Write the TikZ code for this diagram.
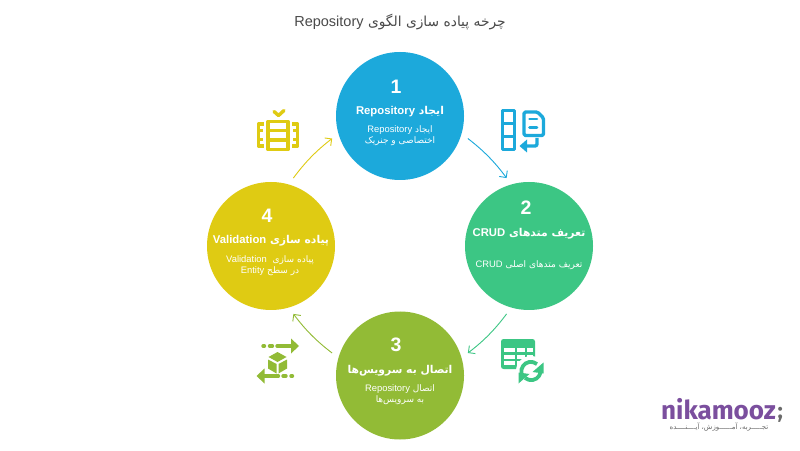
\documentclass[tikz,border=0pt]{standalone}
\usepackage{fontspec}
\usetikzlibrary{arrows.meta}
\TeXXeTstate=1
\newfontfamily\fa[Script=Arabic]{DejaVu Sans}
\newfontfamily\lat{Liberation Sans}
\newfontfamily\logofont{Fira Sans}
\newcommand\RLtxt[1]{\beginR #1\endR}
\newcommand\LTtxt[1]{\beginL{\lat #1}\endL{}}
\newcommand\HL[1]{{\fontsize{11.3}{12}\selectfont\LTtxt{#1}}}
\newcommand\BL[1]{{\fontsize{9.4}{10}\selectfont\LTtxt{#1}}}
\definecolor{cblue}{HTML}{1CA9DB}
\definecolor{cgreen}{HTML}{3CC684}
\definecolor{colive}{HTML}{92BB36}
\definecolor{cyellow}{HTML}{DFCB13}
\definecolor{ctitle}{HTML}{4A4A4A}
\definecolor{cpurple}{HTML}{7B4F9E}
\definecolor{cgreylogo}{HTML}{6A6A6A}
\tikzset{
  stepcircle/.style={circle,fill=#1,minimum size=128pt,inner sep=0pt,outer sep=0pt},
  numtxt/.style={text=white,font=\lat\bfseries\fontsize{19.5}{21}\selectfont,inner sep=0pt},
  headtxt/.style={text=white,font=\fa\bfseries\fontsize{10.8}{12}\selectfont,inner sep=0pt},
  bodytxt/.style={text=white,font=\fa\fontsize{9}{11}\selectfont,align=center,inner sep=0pt},
  cyclearrow/.style={draw=#1,line width=0.9pt,shorten >=8pt,shorten <=8pt,-{Straight Barb[length=5pt,width=10pt,line width=0.9pt]}},
}
\begin{document}
\begin{tikzpicture}[x=1pt,y=1pt]
\useasboundingbox (0,0) rectangle (800,450);
\fill[white] (0,0) rectangle (800,450);
% title
\node[inner sep=0pt,text=ctitle,font=\fa\fontsize{13.8}{14}\selectfont] (title) at (400,428)
  {\RLtxt{چرخه پیاده سازی الگوی {\fontsize{14.5}{14}\selectfont\LTtxt{Repository}}}};
% circles
\node[stepcircle=cblue] (c1) at (400,334) {};
\node[stepcircle=cgreen] (c2) at (529,204) {};
\node[stepcircle=colive] (c3) at (400,74.5) {};
\node[stepcircle=cyellow] (c4) at (271,204) {};
% arrows
\draw[cyclearrow=cblue] (c1.-16) to[bend left=8] (c2.106);
\draw[cyclearrow=cgreen] (c2.-106) to[bend left=8] (c3.16);
\draw[cyclearrow=colive] (c3.164) to[bend left=8] (c4.-74);
\draw[cyclearrow=cyellow] (c4.74) to[bend left=8] (c1.196);
% circle 1
\node[numtxt] (n1) at (396,363) {1};
\node[headtxt] (h1) at (400,338) {\RLtxt{ایجاد \HL{Repository}}};
\node[bodytxt] (b1) at (400,314) {\RLtxt{ایجاد \BL{Repository}}\\\RLtxt{اختصاصی و جنریک}};
% circle 2
\node[numtxt] (n2) at (526,242) {2};
\node[headtxt] (h2) at (529,216) {\RLtxt{تعریف متدهای \HL{CRUD}}};
\node[bodytxt] (b2) at (529,185) {\RLtxt{تعریف متدهای اصلی \BL{CRUD}}};
% circle 3
\node[numtxt] (n3) at (396,105) {3};
\node[headtxt] (h3) at (400,79) {\RLtxt{اتصال به سرویس^^^^200cها}};
\node[bodytxt] (b3) at (400,55) {\RLtxt{اتصال \BL{Repository}}\\\RLtxt{به سرویس^^^^200cها}};
% circle 4
\node[numtxt] (n4) at (267,234) {4};
\node[headtxt] (h4) at (271,209) {\RLtxt{پیاده سازی \HL{Validation}}};
\node[bodytxt] (b4) at (270,184) {\RLtxt{پیاده سازی \ \BL{Validation}}\\\RLtxt{در سطح \BL{Entity}}};
% icon 1 (blue)
\begin{scope}[cblue,line width=3.4pt,line join=round]
  \draw (502.5,339.5) rectangle (514.5,300.5);
  \draw (502.5,326.5) -- (514.5,326.5) (502.5,313.5) -- (514.5,313.5);
  \draw[rounded corners=1.5pt] (524,338) -- (537.5,338) -- (543.5,332) -- (543.5,314.5) -- (524,314.5) -- cycle;
  \draw[line width=2.6pt,line cap=round] (529.5,331) -- (537,331) (529.5,322.5) -- (537,322.5);
  \draw[rounded corners=2pt] (537,312) -- (537,304) -- (526,304);
  \fill (519.5,304) -- (527,310.5) -- (527,297.5) -- cycle;
\end{scope}
% icon 4 (yellow)
\begin{scope}[cyellow,line width=3.4pt,line join=round]
  \draw (268,328.5) rectangle (288,300.5);
  \draw (268,319.5) -- (288,319.5) (268,310) -- (288,310);
  \draw (264,326) -- (258.5,326) -- (258.5,304) -- (264,304);
  \draw (292,326) -- (297.5,326) -- (297.5,304) -- (292,304);
  \draw[line width=2.4pt] (258,319.5) -- (263,319.5) (258,310.5) -- (263,310.5) (293,319.5) -- (298,319.5) (293,310.5) -- (298,310.5);
  \draw[line width=3.4pt,line cap=round] (274,338.5) -- (278.5,334.5) -- (284,339.5);
\end{scope}
% icon 3 (olive)
\begin{scope}[colive,line width=3.4pt,line join=round,line cap=round]
  \draw (263,104) -- (264.5,104) (269.5,104) -- (272.5,104) (277,104) -- (291,104);
  \fill (299,104) -- (291,111.5) -- (291,96.5) -- cycle;
  \draw (292.5,74) -- (291,74) (286,74) -- (283,74) (278.5,74) -- (264.5,74);
  \fill (256.5,74) -- (264.5,81.5) -- (264.5,66.5) -- cycle;
  \fill (277.5,98) -- (286.5,93) -- (277.5,88) -- (268.5,93) -- cycle;
  \fill (268,90.5) -- (276.5,86) -- (276.5,76.5) -- (268,81.5) -- cycle;
  \fill (287,90.5) -- (278.5,86) -- (278.5,76.5) -- (287,81.5) -- cycle;
\end{scope}
% icon 2 (green)
\begin{scope}
  \fill[cgreen,rounded corners=2.5pt] (501,111) rectangle (535,81);
  \begin{scope}[white]
    \foreach \x/\w in {504/10.5,516.5/8.5,527/6}{
      \foreach \y in {98,91.5,85}{
        \fill (\x,\y) rectangle ++(\w,4);
      }
    }
  \end{scope}
  \fill[white] (531,79) circle (15);
  \draw[cgreen,line width=3.8pt] (521.5,77) arc[start angle=190,end angle=50,radius=9.5];
  \fill[cgreen] (543.5,87.5) -- (543.5,76.5) -- (532.5,78) -- cycle;
  \draw[cgreen,line width=3.8pt] (540.5,81) arc[start angle=10,end angle=-130,radius=9.5];
  \fill[cgreen] (518.5,66.5) -- (518.5,77.5) -- (529.5,76) -- cycle;
\end{scope}
% logo
\node[anchor=base west,inner sep=0pt,text=cpurple,font=\logofont\bfseries\fontsize{26}{26}\selectfont] (logo) at (661,31) {nikamooz};
\node[anchor=base west,inner sep=0pt,text=cgreylogo,font=\logofont\bfseries\fontsize{22}{24}\selectfont] (semi) at (777.5,31.5) {;};
\node[inner sep=0pt,text=cgreylogo,font=\fa\fontsize{7}{8}\selectfont] (slogan) at (719,23) {\RLtxt{تجـــــربه، آمــــــوزش، آیــــنــــده}};
\end{tikzpicture}
\end{document}
